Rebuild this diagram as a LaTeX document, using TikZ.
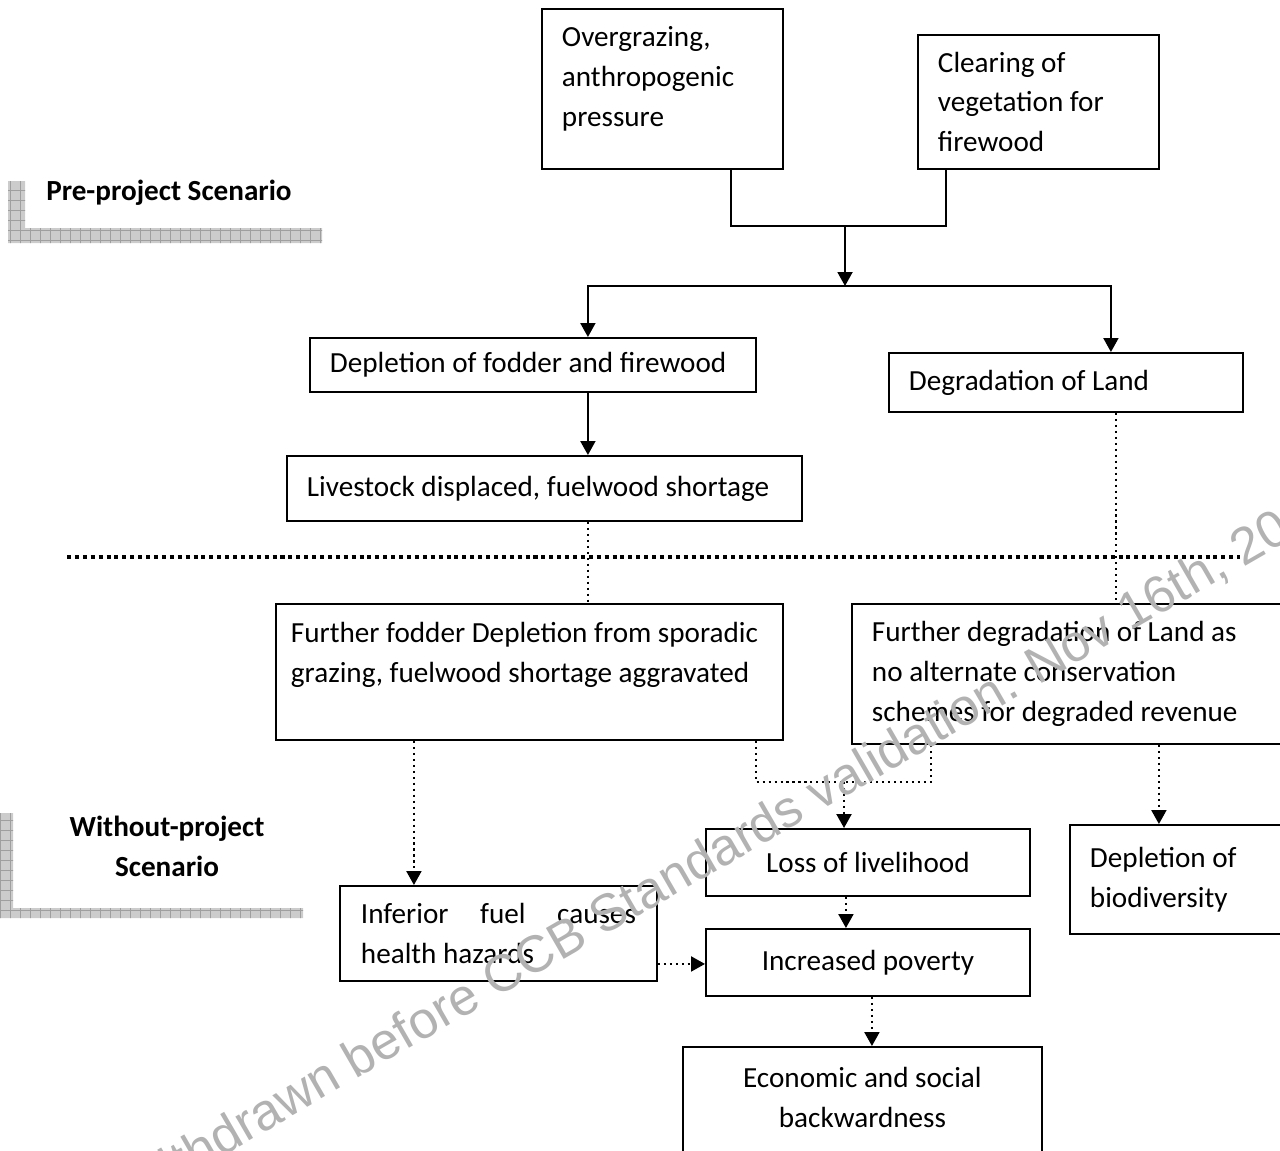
\documentclass[tikz,border=0pt]{standalone}
\usepackage{fontspec}
\setmainfont{Carlito}
\newfontfamily\markfont{Liberation Sans}
\usetikzlibrary{arrows.meta}

\begin{document}
\begin{tikzpicture}[x=0.02cm,y=-0.02cm]
\tikzstyle{box}=[draw,line width=1.1pt,anchor=north west,inner xsep=0.4cm,inner ysep=2pt,align=flush left,font=\fontsize{16.6}{22.7}\selectfont];
\tikzstyle{cbox}=[box,align=flush center];
\tikzstyle{wire}=[line width=1.1pt];
\tikzstyle{flow}=[wire,-{Triangle[width=0.3cm,length=0.28cm]}];
\tikzstyle{dots}=[line width=1.2pt,dash pattern=on 1.2pt off 2.2pt];
\tikzstyle{dflow}=[dots,-{Triangle[width=0.3cm,length=0.28cm]}];
\tikzstyle{sep}=[line width=2.2pt,dash pattern=on 2.3pt off 2.2pt];
\tikzstyle{heading}=[font=\fontsize{16.6}{22.7}\selectfont\bfseries,align=center];
\tikzstyle{wmark}=[text=gray!60,font=\markfont\fontsize{29.5}{36}\selectfont,rotate=30,anchor=base west];
\useasboundingbox (0,0) rectangle (1280,1150);
\clip (0,0) rectangle (1280,1150);

% scenario markers
\begin{scope}
\clip (8,181) -- (25,181) -- (25,228) -- (322,228) -- (322,243) -- (8,243) -- cycle;
\fill[gray!40] (0,170) rectangle (330,250);
\draw[gray!75,line width=0.3pt,step=0.2cm] (0,170) grid (330,250);
\end{scope}
\begin{scope}
\clip (0,813) -- (13,813) -- (13,908) -- (303,908) -- (303,918) -- (0,918) -- cycle;
\fill[gray!40] (0,800) rectangle (310,925);
\draw[gray!75,line width=0.3pt,step=0.2cm] (0,800) grid (310,925);
\end{scope}
\node [heading] (pre) at (169,193) {Pre-project Scenario};
\node [heading] (without) at (167,846) {Without-project\\Scenario};

% pre-project boxes
\node [box,minimum width=4.82cm,minimum height=3.2cm,text width=4.02cm] (over) at (541,8) {Overgrazing,\\anthropogenic\\pressure\\[-0.3cm]\mbox{}};
\node [box,minimum width=4.82cm,minimum height=2.68cm,text width=4.02cm] (clear) at (917,34) {Clearing of\\vegetation for\\firewood};
\node [box,minimum width=8.92cm,minimum height=1.08cm,text width=8.12cm] (depl) at (309,337) {Depletion of fodder and firewood};
\node [box,minimum width=7.08cm,minimum height=1.18cm,text width=6.28cm] (degr) at (888,352) {Degradation of Land};
\node [box,minimum width=10.3cm,minimum height=1.3cm,text width=9.5cm] (live) at (286,455) {Livestock displaced, fuelwood shortage};

\coordinate (split) at (845,226);
\coordinate (fork) at (845,286);
\draw [wire] ([xshift=1.37cm]over.south) |- (split) -| ([xshift=-1.85cm]clear.south);
\draw [flow] (split) -- (fork);
\draw [flow] (fork) -| ([xshift=1.1cm]depl.north);
\draw [flow] (fork) -| ([xshift=0.9cm]degr.north);
\draw [flow] ([xshift=1.1cm]depl.south) -- ([xshift=1.1cm]depl.south |- live.north);

\draw [sep] (67,557) -- (1240,557);

% without-project boxes
\node [box,minimum width=10.14cm,minimum height=2.72cm,inner xsep=0.3cm,text width=9.54cm] (ffod) at (275,603) {Further fodder Depletion from sporadic\\grazing, fuelwood shortage aggravated\\\mbox{}};
\node [box,minimum width=8.58cm,minimum height=2.8cm,text width=7.78cm] (fdeg) at (851,603) {Further degradation of Land as\\no alternate conservation\\schemes for degraded revenue};
\node [box,minimum width=6.34cm,minimum height=1.9cm,text width=5.5cm,inner xsep=0.42cm,align=justify] (infer) at (339,885) {Inferior fuel causes health hazards};
\node [cbox,minimum width=6.48cm,minimum height=1.34cm,text width=5.68cm] (loss) at (705,828) {Loss of livelihood};
\node [cbox,minimum width=6.48cm,minimum height=1.34cm,text width=5.68cm] (incr) at (705,928) {Increased poverty};
\node [box,minimum width=4.22cm,minimum height=2.18cm,text width=3.42cm] (bio) at (1069,824) {Depletion of\\biodiversity};
\node [cbox,minimum width=7.18cm,minimum height=2.8cm,text width=6.38cm] (econ) at (682,1046) {Economic and social\\backwardness\\\mbox{}};

\draw [dots] ([xshift=0.87cm]live.south) -- ([xshift=0.87cm]live.south |- ffod.north);
\draw [dots] ([xshift=1cm]degr.south) -- ([xshift=1cm]degr.south |- fdeg.north);

\coordinate (meet) at (844,782);
\draw [dflow] ([xshift=-2.31cm]ffod.south) -- ([xshift=-2.31cm]ffod.south |- infer.north);
\draw [dots] ([xshift=4.53cm]ffod.south) |- (meet) -| ([xshift=-2.71cm]fdeg.south);
\draw [dflow] (meet) -- (meet |- loss.north);
\draw [dflow] ([xshift=1.85cm]fdeg.south) -- ([xshift=1.85cm]fdeg.south |- bio.north);
\draw [dflow] ([xshift=-0.44cm]loss.south) -- ([xshift=-0.44cm]loss.south |- incr.north);
\draw [dflow] ([yshift=-0.61cm]infer.east) -- ([yshift=-0.61cm]infer.east -| incr.west);
\draw [dflow] ([xshift=0.08cm]incr.south) -- ([xshift=0.08cm]incr.south |- econ.north);

% watermark
\node [wmark] (stamp) at (126,1212) {Withdrawn before CCB Standards validation. Nov 16th, 2010};
\end{tikzpicture}
\end{document}
